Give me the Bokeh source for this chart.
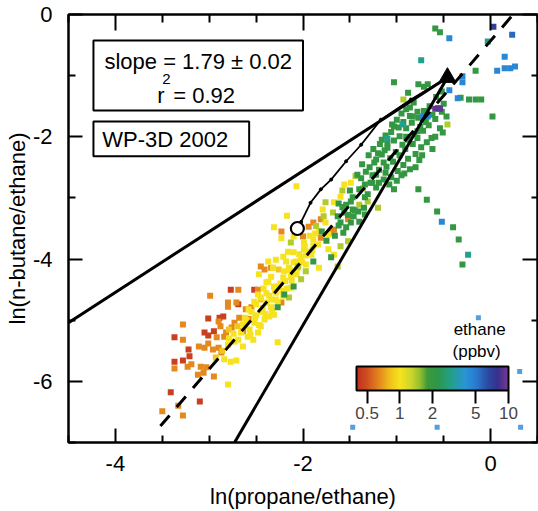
import numpy as np
from bokeh.plotting import figure
from bokeh.models import (ColumnDataSource, LinearAxis, FixedTicker, LogColorMapper,
                          ColorBar, Label, BoxAnnotation, Range1d)
from bokeh.embed import file_html
from bokeh.resources import INLINE

# ---------------- data ----------------
x_range = (-4.5, 0.5)
y_range = (-7.0, 0.0)
x_major = [-4, -2, 0]
x_minor = [-4.5, -3.5, -3, -2.5, -1.5, -1, -0.5, 0.5]
y_major = [-6, -4, -2, 0]
y_minor = [-7, -5, -3, -1]

# ethane level (ppbv) for each colour class of points
eth_red, eth_orange, eth_yorange, eth_yellow = 0.45, 0.65, 0.85, 1.0
eth_ygreen, eth_green, eth_teal, eth_blue = 1.4, 2.0, 3.0, 4.5
eth_dblue, eth_navy, eth_purple = 5.5, 7.0, 9.0

red_x = [-2.77, -2.69, -3.01, -2.95, -3.05, -3.01, -3.37, -3.22, -3.37, -3.28,
         -3.21, -3.41, -3.10, -2.52, -2.85, -2.89]
red_y = [-4.50, -4.74, -4.97, -5.18, -5.20, -5.25, -5.28, -5.48, -5.68, -5.66,
         -5.59, -6.18, -6.33, -4.50, -4.94, -4.96]

orange_x = [-2.99, -2.80, -2.71, -2.80, -2.90, -2.88, -3.28, -3.28, -3.37, -3.23,
            -3.19, -3.11, -3.05, -3.01, -2.96, -2.90, -2.87, -3.09, -3.03, -3.12,
            -3.06, -2.95, -3.33, -3.50, -3.28, -2.84, -2.82, -2.73, -2.68, -2.61,
            -2.55, -2.23, -2.48, -2.23, -2.00, -1.94, -1.89, -1.81, -1.81, -1.70,
            -1.67, -1.52, -2.41, -2.45, -2.69, -2.34, -2.64, -2.58, -2.92, -2.76]
orange_y = [-4.60, -4.71, -4.71, -4.78, -5.02, -5.10, -5.07, -5.32, -5.79, -5.76,
            -5.72, -5.43, -5.45, -5.38, -5.48, -5.45, -5.53, -5.76, -5.77, -5.89,
            -5.86, -5.92, -6.40, -6.49, -6.56, -5.27, -5.20, -5.04, -4.96, -4.82,
            -4.79, -4.71, -4.50, -3.55, -3.63, -3.47, -3.40, -3.35, -3.65, -3.57,
            -3.52, -3.35, -4.17, -4.12, -4.50, -4.14, -5.18, -4.98, -5.28, -5.12]

yorange_x = [-2.93, -2.26, -2.79, -2.45, -2.86, -2.70]
yorange_y = [-5.61, -4.17, -5.15, -4.66, -5.50, -5.10]

yellow_x = [-2.84, -2.77, -2.71, -2.80, -2.69, -2.64, -2.79, -2.73, -2.80, -2.64,
            -2.52, -2.57, -2.59, -2.53, -2.48, -2.45, -2.41, -2.36, -2.31, -2.27,
            -2.31, -2.37, -2.07, -2.17, -2.31, -2.23, -2.10, -1.83, -1.76, -1.99,
            -1.89, -1.84, -1.73, -1.56, -1.49, -1.60, -1.67, -1.79, -1.73, -1.67,
            -1.83, -1.91, -1.99, -2.02, -2.10, -2.16, -2.21, -2.18, -2.29, -2.32,
            -2.37, -2.47, -2.34, -2.20, -2.13, -2.39, -2.26, -2.13, -2.48, -2.62,
            -2.62, -2.55, -2.50, -2.50, -2.45, -2.45, -2.39, -2.39, -2.34, -2.34,
            -2.29, -2.29, -2.21, -2.21, -2.15, -2.07, -2.07, -1.97, -1.97, -1.89]
yellow_y = [-5.64, -5.68, -5.66, -6.05, -5.32, -5.43, -5.30, -5.35, -5.40, -5.07,
            -5.04, -5.15, -5.27, -5.32, -5.20, -5.10, -4.99, -4.94, -4.91, -5.36,
            -4.45, -4.37, -2.81, -3.29, -3.48, -3.66, -3.63, -3.55, -3.40, -3.73,
            -3.68, -3.76, -3.60, -2.78, -2.75, -2.98, -3.07, -3.19, -3.84, -3.93,
            -4.14, -3.93, -3.84, -3.97, -3.89, -3.88, -3.96, -4.04, -4.01, -4.14,
            -4.04, -4.25, -4.29, -4.20, -4.29, -4.38, -4.45, -4.47, -4.58, -4.96,
            -5.09, -4.86, -4.74, -4.92, -4.63, -4.86, -4.56, -4.71, -4.66, -4.79,
            -4.55, -4.66, -4.30, -4.60, -4.14, -4.04, -4.25, -3.94, -4.09, -3.78]

yellow2_x = [-2.66, -2.60, -2.56, -2.51, -2.47, -2.43, -2.40, -2.36, -2.33, -2.30,
             -2.27, -2.24, -2.22, -2.19, -2.17, -2.14, -2.12, -2.10, -2.06, -2.04,
             -2.01, -1.98, -1.95, -1.93, -1.90, -1.87, -2.42, -2.52, -2.58, -2.74]
yellow2_y = [-5.20, -5.00, -5.24, -4.96, -5.08, -4.80, -4.90, -4.60, -4.85, -4.52,
             -4.70, -4.40, -4.52, -4.36, -4.48, -4.18, -4.35, -4.05, -4.15, -3.92,
             -4.05, -3.80, -3.88, -3.62, -3.85, -3.58, -4.48, -4.70, -4.82, -5.22]

ygreen_x = [-2.15, -2.13, -1.68, -1.76, -1.20, -1.60, -1.52, -1.63, -2.05, -1.97,
            -2.02, -0.93, -0.46, -1.40, -1.31, -1.86, -1.78, -1.58, -1.44, -1.36]
ygreen_y = [-4.63, -3.73, -3.24, -3.07, -3.16, -3.79, -3.71, -4.12, -4.12, -4.20,
            -4.33, -1.39, -1.80, -3.11, -3.06, -3.46, -3.30, -2.88, -2.64, -2.84]

green_x = [-2.27, -2.10, -1.63, -1.56, -1.49, -1.46, -1.60, -1.41, -1.35, -1.49,
           -1.31, -1.22, -1.19, -1.26, -1.14, -1.03, -1.57, -1.70, -1.89, -2.20,
           -0.59, -0.54, -0.16, -0.23, -0.16, -0.10, -0.32, 0.02, -1.03, -0.88,
           -0.77, -0.71, -0.67, -0.82, -0.78, -0.83, -0.50, -0.47, -0.54, -0.51,
           -1.03, -0.90, -0.78, -0.59, -1.33, -1.29, -1.26, -1.22, -1.19, -1.16,
           -1.14, -1.12, -1.10, -1.07, -1.11, -1.06, -1.03, -1.01, -1.04, -0.99,
           -0.97, -0.94, -0.97, -0.93, -0.95, -0.90, -0.87, -0.91, -0.88, -0.86,
           -0.84, -0.81, -0.83, -0.80, -0.77, -0.75, -0.78, -0.74, -0.76, -0.71,
           -0.69, -0.72, -0.68, -0.65, -0.62, -0.66, -0.63, -0.58, -0.56, -0.59,
           -0.52, -0.52, -1.62, -1.62, -1.54, -1.54, -1.47, -1.47, -1.40, -1.40,
           -1.34, -1.34, -1.34, -0.77, -0.68, -0.57, -0.40, -0.34, -0.30]
green_y = [-4.79, -4.45, -3.30, -3.24, -3.40, -3.30, -3.40, -3.22, -3.16, -3.06,
           -2.94, -2.83, -2.75, -2.75, -2.70, -2.86, -3.57, -3.97, -4.04, -4.58,
           -0.23, -0.29, -0.92, -1.39, -1.39, -1.39, -1.36, -1.67, -1.11, -1.28,
           -1.14, -1.18, -1.14, -1.44, -1.59, -1.67, -1.46, -1.67, -1.86, -1.93,
           -1.83, -2.00, -1.91, -2.00, -2.57, -2.50, -2.63, -2.37, -2.54, -2.29,
           -2.42, -2.59, -2.18, -2.35, -2.49, -2.66, -2.06, -2.25, -2.41, -2.56,
           -1.99, -2.13, -2.30, -2.46, -2.63, -1.86, -2.05, -2.20, -2.36, -2.53,
           -1.77, -1.96, -2.12, -2.28, -1.69, -1.84, -2.02, -2.17, -2.38, -1.58,
           -1.76, -1.90, -2.09, -1.50, -1.64, -1.81, -2.02, -1.35, -1.53, -1.71,
           -1.26, -1.59, -3.09, -3.45, -3.11, -3.48, -2.99, -3.19, -2.86, -3.39,
           -2.78, -2.99, -3.27, -2.86, -3.03, -3.22, -3.48, -3.68, -4.09]

green2_x = [-1.30, -1.25, -1.24, -1.18, -1.20, -1.16, -1.12, -1.10, -1.13, -1.06,
            -1.05, -1.00, -0.98, -0.95, -0.93, -0.90, -0.86, -0.86, -1.37, -1.42,
            -1.38, -1.50, -1.28, -1.22, -1.08, -1.00, -0.92, -0.80, -0.73, -0.62,
            -1.45, -1.52, -1.58, -1.66, -1.75, -1.80]
green2_y = [-2.30, -2.20, -2.42, -2.12, -2.27, -2.05, -1.98, -2.10, -2.22, -1.92,
            -1.80, -1.72, -1.85, -1.62, -1.76, -1.55, -1.66, -1.52, -2.45, -2.62,
            -2.68, -2.88, -2.75, -2.62, -2.78, -2.72, -2.60, -2.50, -2.30, -2.20,
            -3.20, -3.28, -3.15, -3.62, -3.70, -3.55]

teal_x = [-0.74, -0.03, -0.94, -1.10, -0.24]
teal_y = [-0.75, -0.44, -1.80, -2.03, -3.93]

blue_x = [-0.44, 0.15, 0.07, 0.15, 0.21, 0.26, -0.30, -0.30, -0.44, -0.35, -0.72, -0.67, -0.52]
blue_y = [-0.39, -0.69, -0.92, -0.88, -0.88, -0.85, -1.01, -1.11, -1.24, -1.37, -1.67, -1.67, -3.39]

dblue_x, dblue_y = [0.23], [-0.33]
navy_x, navy_y = [0.03], [-0.20]
purple_x = [-0.54, -0.59]
purple_y = [-1.54, -1.54]

pale_x = [-0.13, 0.31, -1.47, -0.57, 0.32]
pale_y = [-4.96, -5.84, -6.75, -6.75, -6.75]

# regression line
fit_slope, fit_intercept = 1.79, -0.43
fit_x = [-3.52, 0.24]

# source point and mixing / reaction lines
src_x, src_y = -0.46, -1.03
upper_x = [-4.5, src_x]
upper_y = [-5.04, src_y]
lower_x = [-2.73, src_x]
lower_y = [-7.0, src_y]

# model trajectory from the open circle to the source
traj_x = [-2.06, -2.02, -1.92, -1.81, -1.70, -1.54, -1.38, -1.17, -0.85, -0.46]
traj_y = [-3.50, -3.39, -3.08, -2.86, -2.70, -2.40, -2.13, -1.72, -1.39, -1.03]
circ_x, circ_y = -2.06, -3.50

# colour scale
cb_low, cb_high = 0.4, 10.0
cb_ticks = [0.5, 1, 2, 5, 10]
cb_tick_labels = ["0.5", "1", "2", "5", "10"]
cb_anchor_vals = [0.4, 0.5, 0.65, 0.8, 1.0, 1.3, 1.55, 1.8, 2.2, 3.0, 4.0, 5.0, 6.5, 8.0, 10.0]
cb_anchor_cols = ["#c0301e", "#d05020", "#e48a1e", "#f0be1c", "#f6e41e", "#c8d42c",
                  "#90bc30", "#3c9a3a", "#2e9648", "#22a08c", "#2a94d6", "#2a7cd0",
                  "#2c4aa2", "#38308c", "#7a3896"]

FONT = "Liberation Sans"

# ---------------- palette ----------------
def hex2rgb(h):
    h = h.lstrip("#")
    return [int(h[i:i + 2], 16) for i in (0, 2, 4)]

la = np.log10(cb_anchor_vals)
rgb = np.array([hex2rgb(c) for c in cb_anchor_cols], dtype=float)
lv = np.linspace(np.log10(cb_low), np.log10(cb_high), 256)
palette = []
for v in lv:
    r = np.interp(v, la, rgb[:, 0]); g = np.interp(v, la, rgb[:, 1]); b = np.interp(v, la, rgb[:, 2])
    palette.append("#%02x%02x%02x" % (int(round(r)), int(round(g)), int(round(b))))
mapper = LogColorMapper(palette=palette, low=cb_low, high=cb_high)

# ---------------- figure ----------------
p = figure(width=538, height=511, x_range=Range1d(*x_range), y_range=Range1d(*y_range),
           output_backend="svg", toolbar_location=None,
           min_border_left=68, min_border_right=1, min_border_top=14, min_border_bottom=68)
p.grid.visible = False
p.outline_line_color = "black"
p.outline_line_width = 2
p.background_fill_color = "white"
p.border_fill_color = "white"


def style_axis(ax, major, minor, show_labels, major_len, minor_len):
    ax.ticker = FixedTicker(ticks=major, minor_ticks=minor)
    ax.axis_line_color = "black"
    ax.axis_line_width = 2
    ax.major_tick_line_color = "black"
    ax.major_tick_line_width = 2
    ax.minor_tick_line_color = "black"
    ax.minor_tick_line_width = 2
    ax.major_tick_in = major_len
    ax.major_tick_out = 0
    ax.minor_tick_in = minor_len
    ax.minor_tick_out = 0
    if show_labels:
        ax.major_label_overrides = {t: str(t) for t in major}
        ax.major_label_text_font = FONT
        ax.major_label_text_font_size = "22px"
        ax.major_label_text_color = "black"
        ax.axis_label_text_font = FONT
        ax.axis_label_text_font_size = "22px"
        ax.axis_label_text_font_style = "normal"
        ax.axis_label_text_color = "black"
    else:
        ax.major_label_text_font_size = "0px"
        ax.major_label_standoff = 0
        ax.major_label_overrides = {t: "" for t in major}


xa = p.xaxis[0]
ya = p.yaxis[0]
style_axis(xa, x_major, x_minor, True, 14, 7)
style_axis(ya, y_major, y_minor, True, 14, 7)
xa.axis_label = "ln(propane/ethane)"
ya.axis_label = "ln(n-butane/ethane)"
xa.major_label_standoff = 13
xa.axis_label_standoff = 10
ya.major_label_standoff = 16
ya.axis_label_standoff = 0

top_ax = LinearAxis()
style_axis(top_ax, x_major, x_minor, False, 16, 8)
p.add_layout(top_ax, "above")
right_ax = LinearAxis()
style_axis(right_ax, y_major, y_minor, False, 15, 6)
p.add_layout(right_ax, "right")

# ---------------- scatter ----------------
groups = [
    (red_x, red_y, eth_red), (orange_x, orange_y, eth_orange),
    (yorange_x, yorange_y, eth_yorange), (yellow_x, yellow_y, eth_yellow),
    (yellow2_x, yellow2_y, eth_yellow),
    (ygreen_x, ygreen_y, eth_ygreen), (green_x, green_y, eth_green),
    (green2_x, green2_y, eth_green),
    (teal_x, teal_y, eth_teal), (blue_x, blue_y, eth_blue),
    (dblue_x, dblue_y, eth_dblue), (navy_x, navy_y, eth_navy),
    (purple_x, purple_y, eth_purple),
]
all_x, all_y, all_e = [], [], []
for gx, gy, ge in groups:
    n = min(len(gx), len(gy))
    all_x += list(gx[:n]); all_y += list(gy[:n]); all_e += [ge] * n
src = ColumnDataSource(dict(x=all_x, y=all_y, eth=all_e))
p.scatter("x", "y", source=src, marker="square", size=6,
          fill_color={"field": "eth", "transform": mapper}, line_color=None)

pale_src = ColumnDataSource(dict(x=pale_x, y=pale_y, eth=[eth_blue] * len(pale_x)))
p.scatter("x", "y", source=pale_src, marker="square", size=5,
          fill_color={"field": "eth", "transform": mapper}, fill_alpha=0.8, line_color=None)

# ---------------- lines ----------------
fit_y = [fit_slope * v + fit_intercept for v in fit_x]
p.line(fit_x, fit_y, line_color="black", line_width=3, line_dash="14 11")
p.line(upper_x, upper_y, line_color="black", line_width=3)
p.line(lower_x, lower_y, line_color="black", line_width=3)
p.line(traj_x, traj_y, line_color="black", line_width=1.8)
p.scatter(traj_x, traj_y, marker="circle", size=3, fill_color="black", line_color="black")
p.scatter([src_x], [src_y], marker="triangle", size=17, fill_color="black", line_color="black")
p.scatter([circ_x], [circ_y], marker="circle", size=13, fill_color="white",
          line_color="black", line_width=2.2)

# ---------------- text boxes ----------------
p.add_layout(BoxAnnotation(left=-4.234, right=-2.0, top=-0.425, bottom=-1.57,
                           fill_color="white", fill_alpha=1.0, line_color="black",
                           line_alpha=1.0, line_width=2))
p.add_layout(BoxAnnotation(left=-4.234, right=-2.574, top=-1.75, bottom=-2.32,
                           fill_color="white", fill_alpha=1.0, line_color="black",
                           line_alpha=1.0, line_width=2))


def lab(x, y, text, size="22px", align="left"):
    p.add_layout(Label(x=x, y=y, text=text, text_font=FONT, text_font_size=size,
                       text_align=align, text_baseline="middle", text_color="black"))


lab(-3.117, -0.77, "slope = 1.79 ± 0.02", align="center")
lab(-3.553, -1.325, "r")
lab(-3.50, -1.06, "2", size="15px")
lab(-3.383, -1.325, "= 0.92")
lab(-3.468, -2.044, "WP-3D 2002", align="center")
lab(-0.117, -5.152, "ethane", size="17px", align="center")
lab(-0.149, -5.512, "(ppbv)", size="17px", align="center")

# ---------------- colour bar ----------------
cb = ColorBar(color_mapper=mapper, orientation="horizontal", location=(288, 21),
              width=152, height=24, padding=0,
              ticker=FixedTicker(ticks=cb_ticks),
              major_label_overrides={t: s for t, s in zip(cb_ticks, cb_tick_labels)},
              major_tick_in=0, major_tick_out=13, major_tick_line_color="black",
              major_tick_line_width=2, minor_tick_line_color=None,
              bar_line_color="black", bar_line_width=2,
              border_line_color=None, background_fill_alpha=0,
              major_label_text_font=FONT, major_label_text_font_size="17px",
              label_standoff=3)
p.add_layout(cb)

open("out.html", "w").write(file_html(p, INLINE))
